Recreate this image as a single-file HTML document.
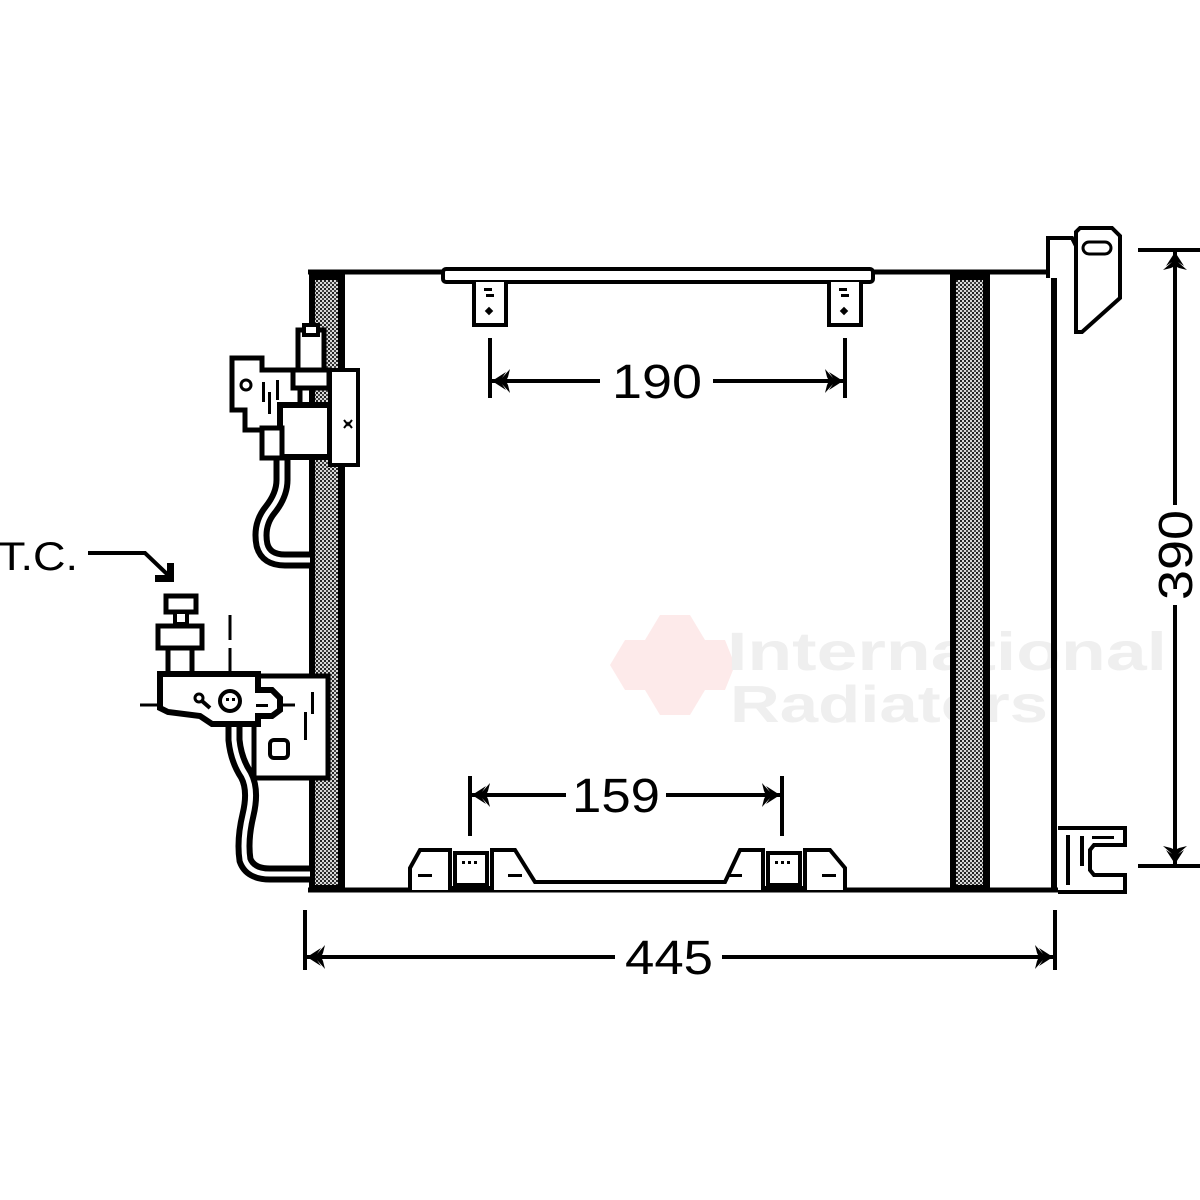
<!DOCTYPE html>
<html><head><meta charset="utf-8"><style>
html,body{margin:0;padding:0;background:#fff;width:1200px;height:1200px;overflow:hidden}
svg{display:block}
text{font-family:"Liberation Sans",sans-serif}
</style></head><body>
<svg width="1200" height="1200" viewBox="0 0 1200 1200" xmlns="http://www.w3.org/2000/svg">
<defs>
<pattern id="h" width="4" height="4" patternUnits="userSpaceOnUse">
<rect width="4" height="4" fill="#d8d8d8"/><rect width="2" height="2" fill="#222"/><rect x="2" y="2" width="2" height="2" fill="#444"/>
</pattern>
<g id="arr"><path d="M0 0 L14 -9 L10 -3 L18 -12 L16 -4 L14 0 L16 4 L18 12 L10 3 L14 9 Z" fill="#000"/></g>
</defs>
<!-- watermark -->
<g fill="#fde8e8" opacity="0.9">
<polygon points="660,615 690,615 705,640 690,665 660,665 645,640"/>
<polygon points="625,640 655,640 670,665 655,690 625,690 610,665"/>
<polygon points="660,665 690,665 705,690 690,715 660,715 645,690"/>
<polygon points="695,640 725,640 735,665 725,690 695,690 685,665"/>
</g>
<text x="727" y="670" font-size="54" font-weight="bold" fill="#efefef" textLength="440" lengthAdjust="spacingAndGlyphs">International</text>
<text x="730" y="722" font-size="52" font-weight="bold" fill="#efefef" textLength="318" lengthAdjust="spacingAndGlyphs">Radiators</text>

<!-- main frame -->
<line x1="308" y1="272" x2="1058" y2="272" stroke="#000" stroke-width="5"/>
<line x1="308" y1="890" x2="1058" y2="890" stroke="#000" stroke-width="5"/>
<rect x="309" y="272" width="36" height="620" fill="#000"/>
<rect x="315" y="280" width="23" height="605" fill="url(#h)"/>
<rect x="950" y="272" width="40" height="620" fill="#000"/>
<rect x="956" y="280" width="27" height="605" fill="url(#h)"/>
<line x1="1054" y1="272" x2="1054" y2="892" stroke="#000" stroke-width="6"/>

<!-- top bracket -->
<rect x="443" y="269" width="430" height="13" rx="3" fill="#fff" stroke="#000" stroke-width="4"/>
<path d="M474 282 V325 H506 V282 M829 282 V325 H861 V282" fill="#fff" stroke="#000" stroke-width="4"/>
<rect x="484" y="288" width="8" height="3"/><rect x="486" y="294" width="8" height="3"/>
<rect x="839" y="288" width="8" height="3"/><rect x="841" y="294" width="8" height="3"/>
<rect x="486" y="308" width="6" height="6" transform="rotate(45 489 311)"/>
<rect x="841" y="308" width="6" height="6" transform="rotate(45 844 311)"/>

<!-- 190 -->
<line x1="490" y1="338" x2="490" y2="398" stroke="#000" stroke-width="4"/>
<line x1="845" y1="338" x2="845" y2="398" stroke="#000" stroke-width="4"/>
<line x1="492" y1="381" x2="600" y2="381" stroke="#000" stroke-width="4"/>
<line x1="713" y1="381" x2="843" y2="381" stroke="#000" stroke-width="4"/>
<use href="#arr" transform="translate(492 381)"/>
<use href="#arr" transform="translate(843 381) scale(-1 1)"/>
<text x="657" y="398" font-size="48" text-anchor="middle" textLength="90" lengthAdjust="spacingAndGlyphs">190</text>

<!-- bottom bracket -->
<path d="M410 890 V868 L420 850 H450 V888 H492 V850 H515 L535 882 H725 L740 850 H763 V888 H805 V850 H830 L845 868 V890" fill="#fff" stroke="#000" stroke-width="4"/>
<rect x="455" y="853" width="32" height="32" fill="#fff" stroke="#000" stroke-width="4"/>
<rect x="768" y="853" width="32" height="32" fill="#fff" stroke="#000" stroke-width="4"/>
<g fill="#000"><rect x="418" y="874" width="14" height="3"/><rect x="508" y="874" width="14" height="3"/><rect x="728" y="874" width="14" height="3"/><rect x="822" y="874" width="14" height="3"/>
<rect x="462" y="861" width="3" height="3"/><rect x="468" y="861" width="3" height="3"/><rect x="474" y="861" width="3" height="3"/>
<rect x="775" y="861" width="3" height="3"/><rect x="781" y="861" width="3" height="3"/><rect x="787" y="861" width="3" height="3"/></g>

<!-- 159 -->
<line x1="470" y1="776" x2="470" y2="836" stroke="#000" stroke-width="4"/>
<line x1="782" y1="776" x2="782" y2="836" stroke="#000" stroke-width="4"/>
<line x1="472" y1="795" x2="566" y2="795" stroke="#000" stroke-width="4"/>
<line x1="666" y1="795" x2="780" y2="795" stroke="#000" stroke-width="4"/>
<use href="#arr" transform="translate(472 795)"/>
<use href="#arr" transform="translate(780 795) scale(-1 1)"/>
<text x="616" y="812" font-size="48" text-anchor="middle" textLength="88" lengthAdjust="spacingAndGlyphs">159</text>

<!-- 445 -->
<line x1="305" y1="910" x2="305" y2="970" stroke="#000" stroke-width="4"/>
<line x1="1055" y1="910" x2="1055" y2="970" stroke="#000" stroke-width="4"/>
<line x1="307" y1="957" x2="615" y2="957" stroke="#000" stroke-width="4"/>
<line x1="722" y1="957" x2="1053" y2="957" stroke="#000" stroke-width="4"/>
<use href="#arr" transform="translate(307 957)"/>
<use href="#arr" transform="translate(1053 957) scale(-1 1)"/>
<text x="669" y="974" font-size="48" text-anchor="middle" textLength="88" lengthAdjust="spacingAndGlyphs">445</text>

<!-- right brackets -->
<path d="M1048 278 V238 H1072 L1076 246 V278" fill="#fff" stroke="#000" stroke-width="4"/>
<path d="M1076 332 V232 L1080 228 H1112 L1120 236 V298 L1082 332 Z" fill="#fff" stroke="#000" stroke-width="4"/>
<rect x="1083" y="242" width="28" height="12" rx="6" fill="#fff" stroke="#000" stroke-width="3"/>
<path d="M1058 828 H1125 V845 H1094 L1090 850 V870 L1094 875 H1125 V892 H1058" fill="#fff" stroke="#000" stroke-width="4"/>
<rect x="1066" y="835" width="4" height="50"/><rect x="1080" y="836" width="4" height="30"/><rect x="1092" y="836" width="22" height="3"/>

<!-- 390 -->
<line x1="1138" y1="250" x2="1200" y2="250" stroke="#000" stroke-width="4"/>
<line x1="1138" y1="866" x2="1200" y2="866" stroke="#000" stroke-width="4"/>
<line x1="1175" y1="252" x2="1175" y2="505" stroke="#000" stroke-width="4"/>
<line x1="1175" y1="605" x2="1175" y2="864" stroke="#000" stroke-width="4"/>
<use href="#arr" transform="translate(1175 252) rotate(90)"/>
<use href="#arr" transform="translate(1175 864) rotate(-90)"/>
<text transform="translate(1192 555) rotate(-90)" font-size="48" text-anchor="middle" textLength="90" lengthAdjust="spacingAndGlyphs">390</text>

<!-- T.C. -->
<text x="-2" y="570" font-size="40" textLength="80" lengthAdjust="spacingAndGlyphs">T.C.</text>
<polyline points="88,553 145,553 168,575" fill="none" stroke="#000" stroke-width="4"/>
<path d="M174 563 V582 H155 V575 H167 V563 Z" fill="#000"/>

<!-- upper pipe -->
<path d="M282 455 V480 Q282 495 270 510 Q258 525 262 545 Q266 560 285 560 H310" fill="none" stroke="#000" stroke-width="17"/>
<path d="M282 455 V480 Q282 495 270 510 Q258 525 262 545 Q266 560 285 560 H310" fill="none" stroke="#fff" stroke-width="5"/>
<!-- upper fitting -->
<path d="M232 358 H262 V370 H300 V445 H262 V430 H245 V410 H232 Z" fill="#fff" stroke="#000" stroke-width="5"/>
<rect x="298" y="330" width="26" height="40" fill="#fff" stroke="#000" stroke-width="5"/>
<rect x="304" y="325" width="14" height="10" fill="#fff" stroke="#000" stroke-width="4"/>
<rect x="293" y="370" width="36" height="18" fill="#fff" stroke="#000" stroke-width="5"/>
<rect x="280" y="405" width="50" height="52" fill="#fff" stroke="#000" stroke-width="6"/>
<rect x="262" y="428" width="20" height="30" fill="#fff" stroke="#000" stroke-width="5"/>
<rect x="330" y="370" width="28" height="95" fill="#fff" stroke="#000" stroke-width="4"/>
<circle cx="246" cy="385" r="5" fill="#fff" stroke="#000" stroke-width="3"/>
<rect x="262" y="382" width="3" height="20"/><rect x="268" y="392" width="3" height="22"/><rect x="276" y="380" width="3" height="20"/>
<path d="M344 420 L348 425 L352 420 M344 428 L348 423 L352 428" stroke="#000" stroke-width="2" fill="none"/>

<!-- lower pipe -->
<path d="M234 712 V740 Q236 760 246 775 Q254 790 248 815 Q242 840 245 860 Q250 874 270 874 H310" fill="none" stroke="#000" stroke-width="17"/>
<path d="M234 712 V740 Q236 760 246 775 Q254 790 248 815 Q242 840 245 860 Q250 874 270 874 H310" fill="none" stroke="#fff" stroke-width="5"/>
<!-- lower fitting -->
<rect x="254" y="676" width="74" height="102" fill="#fff" stroke="#000" stroke-width="5"/>
<rect x="270" y="740" width="18" height="18" rx="4" fill="#fff" stroke="#000" stroke-width="4"/>
<rect x="311" y="692" width="3" height="22"/><rect x="304" y="712" width="3" height="28"/>
<rect x="166" y="596" width="30" height="16" fill="#fff" stroke="#000" stroke-width="5"/>
<rect x="175" y="612" width="12" height="12" fill="#fff" stroke="#000" stroke-width="4"/>
<rect x="158" y="626" width="44" height="22" fill="#fff" stroke="#000" stroke-width="5"/>
<rect x="168" y="648" width="24" height="26" fill="#fff" stroke="#000" stroke-width="5"/>
<line x1="230" y1="615" x2="230" y2="640" stroke="#000" stroke-width="3"/>
<line x1="230" y1="648" x2="230" y2="672" stroke="#000" stroke-width="3"/>
<line x1="140" y1="705" x2="160" y2="705" stroke="#000" stroke-width="3"/>
<line x1="280" y1="705" x2="295" y2="705" stroke="#000" stroke-width="3"/>
<path d="M160 674 H258 V690 H272 L280 698 V710 L272 716 H258 V724 H212 L200 716 L168 712 L160 708 Z" fill="#fff" stroke="#000" stroke-width="6"/>
<circle cx="230" cy="701" r="10" fill="#fff" stroke="#000" stroke-width="4"/>
<rect x="226" y="698" width="3" height="3"/><rect x="232" y="698" width="3" height="3"/>
<circle cx="199" cy="698" r="4" fill="#fff" stroke="#000" stroke-width="3"/>
<line x1="202" y1="701" x2="210" y2="708" stroke="#000" stroke-width="4"/>
<rect x="256" y="704" width="12" height="3"/>
</svg>
</body></html>
